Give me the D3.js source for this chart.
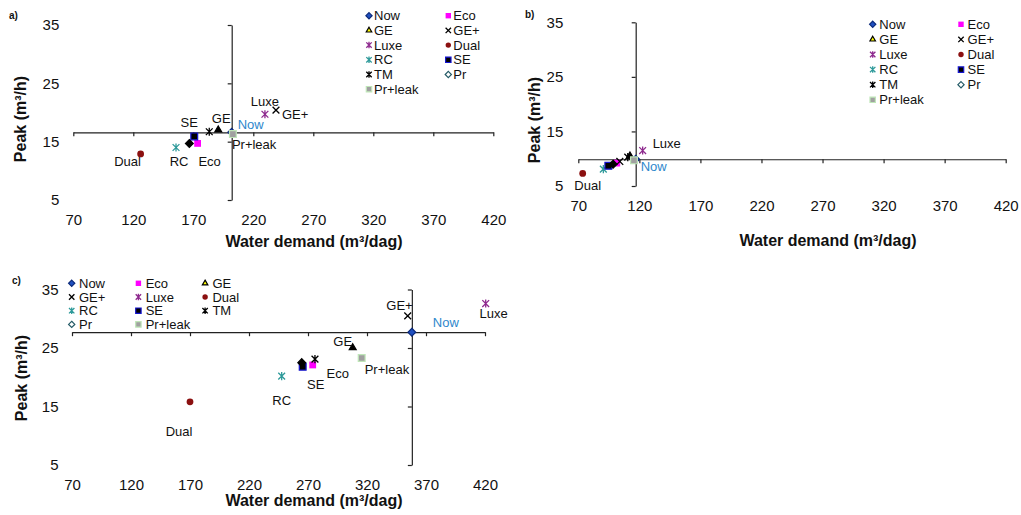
<!DOCTYPE html>
<html lang="en">
<head>
<meta charset="UTF-8">
<title>Peak vs water demand</title>
<script src="https://cdnjs.cloudflare.com/ajax/libs/d3/7.8.5/d3.min.js"></script>
<style>
    body { margin: 0; background: #fff; }
    svg text { font-family: Arial, "Liberation Sans", sans-serif; fill: #111; }
</style>
</head>
<body>
<div id="chart"></div>
<script>

// Scenarios, same order everywhere (legend is row-major)
const series = ['Now', 'Eco', 'GE', 'GE+', 'Luxe', 'Dual', 'RC', 'SE', 'TM', 'Pr', 'Pr+leak'];

const xTicks = [70, 120, 170, 220, 270, 320, 370, 420];
const yTicks = [5, 15, 25, 35];

// panel a
const demandA = [202, 173.6, 190.8, 238.9, 229.7, 126.1, 155.6, 170.8, 183.3, 166.7, 203];
const peakA   = [16.6, 14.7, 17.0, 20.4, 19.7, 12.9, 14.0, 15.9, 16.7, 14.7, 16.3];

// panel b
const demandB = [117, 101.5, 112.3, 104, 122.7, 73.6, 90.5, 94.6, 110.5, 98.5, 115.6];
const peakB   = [9.9, 9.2, 10.5, 9.5, 11.5, 7.3, 8.1, 8.7, 10.3, 9.0, 9.7];

// panel c
const demandC = [358, 274, 307.9, 354.5, 420.6, 170, 247.7, 265.5, 275.9, 264.7, 315.5];
const peakC   = [27.7, 22.1, 25.05, 30.5, 32.6, 15.8, 20.2, 21.8, 23.1, 22.5, 23.3];

// marker looks: plotted points, and the legend swatches (a few differ)
const plotStyle = {
    'Now':     { shape: 'diamond',  fill: '#2050c0', stroke: '#0c2a7a' },
    'Eco':     { shape: 'square',   fill: '#ff00ff', stroke: 'none' },
    'GE':      { shape: 'triangle', fill: '#000',    stroke: '#000' },
    'GE+':     { shape: 'x',        fill: 'none',    stroke: '#000' },
    'Luxe':    { shape: 'star',     fill: 'none',    stroke: '#8e2a8e' },
    'Dual':    { shape: 'circle',   fill: '#8b1010', stroke: 'none' },
    'RC':      { shape: 'star',     fill: 'none',    stroke: '#2e9a9a' },
    'SE':      { shape: 'square',   fill: '#000',    stroke: '#1414d0' },
    'TM':      { shape: 'star',     fill: 'none',    stroke: '#000' },
    'Pr':      { shape: 'diamond',  fill: '#000',    stroke: '#000' },
    'Pr+leak': { shape: 'square',   fill: '#a0a0a0', stroke: '#bfe6b8' }
};
const legendStyle = Object.assign({}, plotStyle, {
    'GE': { shape: 'triangle', fill: '#ffff00', stroke: '#000' },
    'Pr': { shape: 'diamond',  fill: '#fff',    stroke: '#245a66' }
});

const svg = d3.select('#chart').append('svg')
    .attr('width', 1021)
    .attr('height', 515);

// returns a path string for a marker of half-size r
const markerPath = (shape, r) => {
    if (shape === 'x') {
        return `M${-r},${-r}L${r},${r}M${-r},${r}L${r},${-r}`;
    }
    if (shape === 'star') {
        return `M${-r},${-r}L${r},${r}M${-r},${r}L${r},${-r}M0,${-r * 1.2}L0,${r * 1.2}`;
    }
    if (shape === 'diamond') {
        const d = r * 1.15;
        return `M0,${-d}L${d},0L0,${d}L${-d},0Z`;
    }
    const types = {
        square: d3.symbolSquare,
        triangle: d3.symbolTriangle,
        circle: d3.symbolCircle
    };
    const area = { square: 4, triangle: 1.8, circle: 3.14 }[shape] * r * r;
    return d3.symbol().type(types[shape]).size(area)();
};

const addMarker = (g, st, r) => {
    const open = st.shape === 'x' || st.shape === 'star';
    g.append('path')
        .attr('d', markerPath(st.shape, r))
        .attr('fill', open ? 'none' : st.fill)
        .attr('stroke', st.stroke)
        .attr('stroke-width', open ? 1.3 : 1.2);
};

const drawPanel = (p) => {
    const x = d3.scaleLinear().domain([70, 420]).range([p.left, p.right]);
    const y = d3.scaleLinear().domain([5, 35]).range([p.bottom, p.top]);
    const g = svg.append('g');

    // axes cross at the "Now" scenario
    const crossX = p.demand[0];
    const crossY = p.peak[0];

    g.append('g')
        .attr('transform', `translate(0,${y(crossY)})`)
        .call(d3.axisBottom(x).tickValues(xTicks).tickSize(4).tickSizeOuter(0).tickFormat(''));

    g.append('g')
        .attr('transform', `translate(${x(crossX)},0)`)
        .call(d3.axisLeft(y).tickValues(yTicks).tickSize(4).tickSizeOuter(0).tickFormat(''));

    g.selectAll('.domain, .tick line')
        .attr('stroke', '#222')
        .attr('stroke-width', 1.2);

    // tick labels sit at the low end of each axis
    const xLab = g.append('g')
        .attr('transform', `translate(0,${p.bottom})`)
        .call(d3.axisBottom(x).tickValues(xTicks).tickSize(0).tickPadding(14));
    const yLab = g.append('g')
        .attr('transform', `translate(${p.left},0)`)
        .call(d3.axisLeft(y).tickValues(yTicks).tickSize(0).tickPadding(p.yPad));
    [xLab, yLab].forEach(a => {
        a.select('.domain').remove();
        a.attr('font-size', null).attr('font-family', null);
        a.selectAll('text').attr('font-size', 15).attr('fill', '#111');
    });

    // points
    series.forEach((name, i) => {
        const m = g.append('g')
            .attr('transform', `translate(${x(p.demand[i])},${y(p.peak[i])})`);
        addMarker(m, plotStyle[name], 3.4);
    });

    // point labels
    Object.keys(p.labels).forEach(name => {
        const i = series.indexOf(name);
        const [dx, dy, anchor] = p.labels[name];
        g.append('text')
            .attr('x', x(p.demand[i]) + dx)
            .attr('y', y(p.peak[i]) + dy)
            .attr('dy', '0.35em')
            .attr('text-anchor', anchor)
            .attr('font-size', 13)
            .style('fill', name === 'Now' ? '#2e88cc' : '#111')
            .text(name);
    });

    // axis titles
    g.append('text')
        .attr('x', p.xTitle[0])
        .attr('y', p.xTitle[1])
        .attr('dy', '0.35em')
        .attr('text-anchor', 'middle')
        .attr('font-size', 16)
        .attr('font-weight', 'bold')
        .text('Water demand (m³/dag)');

    g.append('text')
        .attr('transform', `translate(${p.yTitle[0]},${p.yTitle[1]}) rotate(-90)`)
        .attr('dy', '0.35em')
        .attr('text-anchor', 'middle')
        .attr('font-size', 16)
        .attr('font-weight', 'bold')
        .text('Peak (m³/h)');

    g.append('text')
        .attr('x', p.tag[0])
        .attr('y', p.tag[1])
        .attr('font-size', 10)
        .attr('font-weight', 'bold')
        .text(p.tag[2]);

    // legend
    const lg = p.legend;
    series.forEach((name, i) => {
        const col = i % lg.ncol;
        const row = Math.floor(i / lg.ncol);
        const item = g.append('g')
            .attr('transform', `translate(${lg.x + col * lg.colW},${lg.y + row * lg.rowH})`);
        addMarker(item, legendStyle[name], 2.7);
        item.append('text')
            .attr('x', lg.textDx)
            .attr('dy', '0.35em')
            .attr('font-size', 13)
            .text(name);
    });
};

drawPanel({
    demand: demandA, peak: peakA,
    left: 73.3, right: 493.3, top: 25, bottom: 200, yPad: 14,
    xTitle: [314, 241], yTitle: [20, 119], tag: [9, 19, 'a)'],
    labels: {
        'SE': [-5, -14, 'middle'], 'GE': [3, -12, 'middle'], 'Now': [6, -8, 'start'],
        'Pr+leak': [-1, 10, 'start'], 'Dual': [-13, 8, 'middle'], 'RC': [3, 14, 'middle'],
        'Eco': [12, 18, 'middle'], 'Luxe': [0, -13, 'middle'], 'GE+': [6, 4, 'start']
    },
    legend: { x: 369, y: 15.7, colW: 79.3, rowH: 14.7, ncol: 2, textDx: 5 }
});

drawPanel({
    demand: demandB, peak: peakB,
    left: 578.3, right: 1005.7, top: 22.3, bottom: 186, yPad: 15,
    xTitle: [828, 240], yTitle: [534, 120], tag: [525, 18, 'b)'],
    labels: {
        'Luxe': [10, -7, 'start'], 'Now': [5, 7, 'start'], 'Dual': [5, 12, 'middle']
    },
    legend: { x: 872.7, y: 24.3, colW: 88.3, rowH: 15.1, ncol: 2, textDx: 6.6 }
});

drawPanel({
    demand: demandC, peak: peakC,
    left: 72, right: 485, top: 289.5, bottom: 465, yPad: 13.5,
    xTitle: [314, 500], yTitle: [21, 378], tag: [12, 284, 'c)'],
    labels: {
        'GE+': [5, -10, 'end'], 'Luxe': [8, 10, 'middle'], 'Now': [34, -10, 'middle'],
        'GE': [-10, -6, 'middle'], 'Pr+leak': [3, 12, 'start'], 'Eco': [25, 8, 'middle'],
        'SE': [13, 18, 'middle'], 'RC': [0, 24, 'middle'], 'Dual': [-11, 30, 'middle']
    },
    legend: { x: 71.7, y: 283.3, colW: 66.7, rowH: 13.7, ncol: 3, textDx: 7.3 }
});

</script>
</body>
</html>
